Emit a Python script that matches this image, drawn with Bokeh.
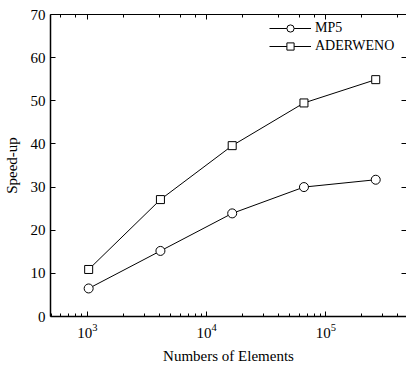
from bokeh.plotting import figure
from bokeh.models import LogAxis, LinearAxis, Legend, LegendItem, FixedTicker, Range1d
from bokeh.embed import file_html
from bokeh.resources import INLINE

elements = [1024, 4096, 16384, 65536, 262144]
mp5 = [6.5, 15.2, 23.9, 30.0, 31.7]
aderweno = [10.9, 27.1, 39.6, 49.5, 54.9]

FONT = "Liberation Serif"

p = figure(width=406, height=366, x_axis_type="log", output_backend="svg",
           toolbar_location=None, x_range=Range1d(490, 4.75e5), y_range=Range1d(0, 70),
           min_border_left=0, min_border_right=0, min_border_top=14, min_border_bottom=0)
p.grid.visible = False
p.outline_line_color = None
p.background_fill_color = "white"
p.border_fill_color = "white"

l1 = p.line(elements, mp5, line_color="black", line_width=1)
c1 = p.scatter(elements, mp5, marker="circle", size=9, fill_color="white", line_color="black", line_width=1)
l2 = p.line(elements, aderweno, line_color="black", line_width=1)
c2 = p.scatter(elements, aderweno, marker="square", size=8, fill_color="white", line_color="black", line_width=1)

legend = Legend(items=[LegendItem(label="MP5", renderers=[l1, c1]),
                       LegendItem(label="ADERWENO", renderers=[l2, c2])],
                location="top_right", border_line_color=None, background_fill_alpha=0,
                label_text_font=FONT, label_text_font_size="14px", label_text_color="black",
                glyph_width=42, glyph_height=18, label_height=18, label_width=86,
                label_standoff=4, spacing=0, padding=0, margin=5)
p.add_layout(legend)

for ax in [p.xaxis[0], p.yaxis[0]]:
    ax.major_tick_in = 5
    ax.major_tick_out = 0
    ax.minor_tick_in = 3
    ax.minor_tick_out = 0
    ax.axis_line_width = 1.5
    ax.axis_line_color = "black"
    ax.major_tick_line_color = "black"
    ax.minor_tick_line_color = "black"
    ax.major_label_text_font = FONT
    ax.major_label_text_font_size = "15px"
    ax.major_label_text_color = "black"
    ax.axis_label_text_font = FONT
    ax.axis_label_text_font_size = "15px"
    ax.axis_label_text_font_style = "normal"
    ax.axis_label_text_color = "black"

p.xaxis[0].axis_label = "Numbers of Elements"
p.xaxis[0].axis_label_standoff = 7
p.xaxis[0].major_label_standoff = 7
p.yaxis[0].axis_label = "Speed-up"
p.yaxis[0].ticker = FixedTicker(ticks=[0, 10, 20, 30, 40, 50, 60, 70])
p.yaxis[0].minor_tick_in = 0
p.yaxis[0].axis_label_standoff = 8
p.yaxis[0].major_label_standoff = 5

top = LogAxis(major_tick_in=5, major_tick_out=0, minor_tick_in=3, minor_tick_out=0,
              major_label_text_font_size="1px", major_label_text_color=None,
              major_label_standoff=0, axis_line_width=1, axis_line_color="black")
p.add_layout(top, "above")
right = LinearAxis(major_tick_in=5, major_tick_out=0, minor_tick_in=0, minor_tick_out=0,
                   major_label_text_font_size="1px", major_label_text_color=None,
                   major_label_standoff=-6,
                   axis_line_color=None, ticker=FixedTicker(ticks=[10, 20, 30, 40, 50, 60]))
p.add_layout(right, "right")

open("out.html", "w").write(file_html(p, INLINE))
